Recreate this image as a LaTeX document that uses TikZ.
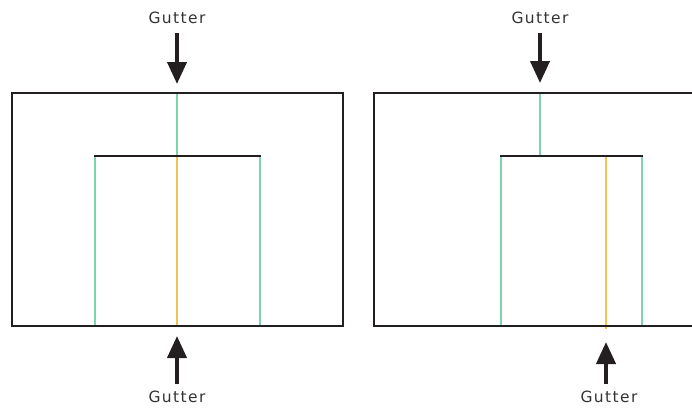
\documentclass[tikz,border=0pt]{standalone}
\usepackage{fontspec}
\setmainfont{DejaVu Sans}
\newfontfamily\labelfont[LetterSpace=9]{DejaVu Sans}
\usetikzlibrary{arrows.meta}
\definecolor{ink}{HTML}{231F20}
\definecolor{gutgreen}{HTML}{7DD3AE}
\definecolor{gutorange}{HTML}{F6C24E}
\definecolor{txt}{HTML}{333333}
\tikzset{
  frame/.style={draw=ink, line width=2pt},
  headline/.style={draw=ink, line width=2.4pt},
  guide/.style={draw=gutgreen, line width=1.2pt},
  gut/.style={draw=gutorange, line width=1.4pt},
  bigarrow/.style={draw=ink, fill=ink, line width=4pt, -{Triangle[width=19pt,length=22pt]}},
  lbl/.style={font=\labelfont\fontsize{15.5}{17}\selectfont, text=txt, inner sep=0pt},
}
\begin{document}
\begin{tikzpicture}[x=1pt,y=-1pt]
\useasboundingbox (0,0) rectangle (692,407);
% ---------- left spread ----------
\draw[guide] (177,93) -- (177,156);
\draw[gut] (177,156) -- (177,326);
\draw[guide] (95,156) -- (95,326);
\draw[guide] (260,156) -- (260,326);
\draw[frame] (12,93) rectangle (343,326);
\draw[headline] (94,156) -- (261,156);
% ---------- right spread ----------
\draw[guide] (540,93) -- (540,156);
\draw[gut] (606,156) -- (606,329);
\draw[guide] (501,156) -- (501,326);
\draw[guide] (642,156) -- (642,326);
\draw[frame] (692,93) -- (374,93) -- (374,326) -- (692,326);
\draw[headline] (500,156) -- (643,156);
% ---------- labels ----------
\node[lbl] (tl) at (177,18) {Gutter};
\node[lbl] (tr) at (540,18) {Gutter};
\node[lbl] (bl) at (177,397) {Gutter};
\node[lbl] (br) at (609,397) {Gutter};
% ---------- arrows ----------
\coordinate (tla) at (177,33);  \coordinate (tlb) at (177,84);
\coordinate (tra) at (540,33);  \coordinate (trb) at (540,83);
\coordinate (bla) at (177,384); \coordinate (blb) at (177,336);
\coordinate (bra) at (606,384); \coordinate (brb) at (606,342);
\draw[bigarrow] (tla) -- (tlb);
\draw[bigarrow] (tra) -- (trb);
\draw[bigarrow] (bla) -- (blb);
\draw[bigarrow] (bra) -- (brb);
\end{tikzpicture}
\end{document}
